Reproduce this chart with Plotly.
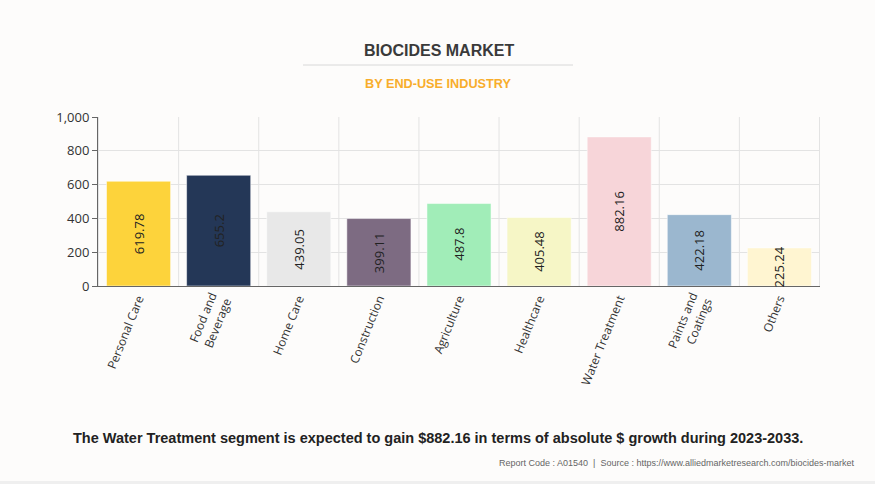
import plotly.graph_objects as go

categories = ["Personal Care", "Food and<br>Beverage", "Home Care", "Construction", "Agriculture",
              "Healthcare", "Water Treatment", "Paints and<br>Coatings", "Others"]
values = [619.78, 655.2, 439.05, 399.11, 487.8, 405.48, 882.16, 422.18, 225.24]
labels = ["619.78", "655.2", "439.05", "399.11", "487.8", "405.48", "882.16", "422.18", "225.24"]
colors = ["#FDD33B", "#243757", "#E8E8E8", "#7D6B82", "#A1EDB8", "#F6F6C6", "#F7D5D9", "#9BB7CF", "#FFF5D1"]
y_ticks = [0, 200, 400, 600, 800, 1000]
y_ticklabels = ["0", "200", "400", "600", "800", "1,000"]

W, H = 875, 484
L, R, T, B = 98, 55, 117, 198
PW, PH = W - L - R, H - T - B


def px(x):
    return (x - L) / PW


def py(y):
    return (H - B - y) / PH


BG = "#FDFCFB"
fig = go.Figure()
fig.add_trace(go.Bar(
    x=categories, y=values,
    marker=dict(color=colors, line=dict(color="rgba(255,255,255,0.5)", width=1)),
    hoverinfo="x+y",
))

for c, v, t in zip(categories, values, labels):
    fig.add_annotation(x=c, y=v / 2, text=t, textangle=-90, showarrow=False,
                       font=dict(family="Open Sans, sans-serif", size=13, color="#222222"))

fig.update_layout(
    width=W, height=H,
    paper_bgcolor=BG, plot_bgcolor=BG,
    margin=dict(l=L, r=R, t=T, b=B),
    bargap=0.2,
    showlegend=False,
    font=dict(family="Open Sans, sans-serif", color="#333333"),
)
fig.update_xaxes(
    showgrid=False, showline=True, linecolor="#666666", linewidth=1,
    tickangle=-68, tickfont=dict(size=12, color="#333333"),
    ticks="",
)
fig.update_yaxes(
    range=[0, 1000], tickvals=y_ticks, ticktext=y_ticklabels,
    showgrid=True, gridcolor="#E3E3E3", gridwidth=1,
    showline=True, linecolor="#666666", linewidth=1,
    ticks="outside", ticklen=5, tickcolor="#666666",
    tickfont=dict(size=13, color="#333333"), zeroline=False,
)
for i in range(len(categories) + 1):
    fig.add_shape(type="line", xref="x", yref="paper", x0=i - 0.5, x1=i - 0.5, y0=0, y1=1,
                  line=dict(color="#E3E3E3", width=1), layer="below")

fig.add_annotation(xref="paper", yref="paper", x=px(439), y=py(50), text="<b>BIOCIDES MARKET</b>",
                   showarrow=False, xanchor="center", yanchor="middle",
                   font=dict(family="Liberation Sans, Arial, sans-serif", size=16, color="#3A3A3A"))
fig.add_annotation(xref="paper", yref="paper", x=px(438), y=py(84), text="<b>BY END-USE INDUSTRY</b>",
                   showarrow=False, xanchor="center", yanchor="middle",
                   font=dict(family="Liberation Sans, Arial, sans-serif", size=12.7, color="#F8AD2B"))
fig.add_shape(type="line", xref="paper", yref="paper", x0=px(303), x1=px(573),
              y0=py(65), y1=py(65), line=dict(color="#D8D8D8", width=1))
fig.add_annotation(xref="paper", yref="paper", x=px(438), y=py(438),
                   text="<b>The Water Treatment segment is expected to gain $882.16 in terms of absolute $ growth during 2023-2033.</b>",
                   showarrow=False, xanchor="center", yanchor="middle",
                   font=dict(family="Liberation Sans, Arial, sans-serif", size=14.5, color="#222222"))
fig.add_annotation(xref="paper", yref="paper", x=px(856), y=py(463),
                   text="Report Code : A01540  |  Source : https://www.alliedmarketresearch.com/biocides-market",
                   showarrow=False, xanchor="right", yanchor="middle",
                   font=dict(family="Liberation Sans Narrow, Arial Narrow, sans-serif", size=9, color="#666666"))
fig.add_shape(type="rect", xref="paper", yref="paper", x0=px(0), x1=px(W), y0=py(H), y1=py(H - 3),
              fillcolor="#EFEFEF", line=dict(width=0), layer="below")

fig.write_html("out.html")
